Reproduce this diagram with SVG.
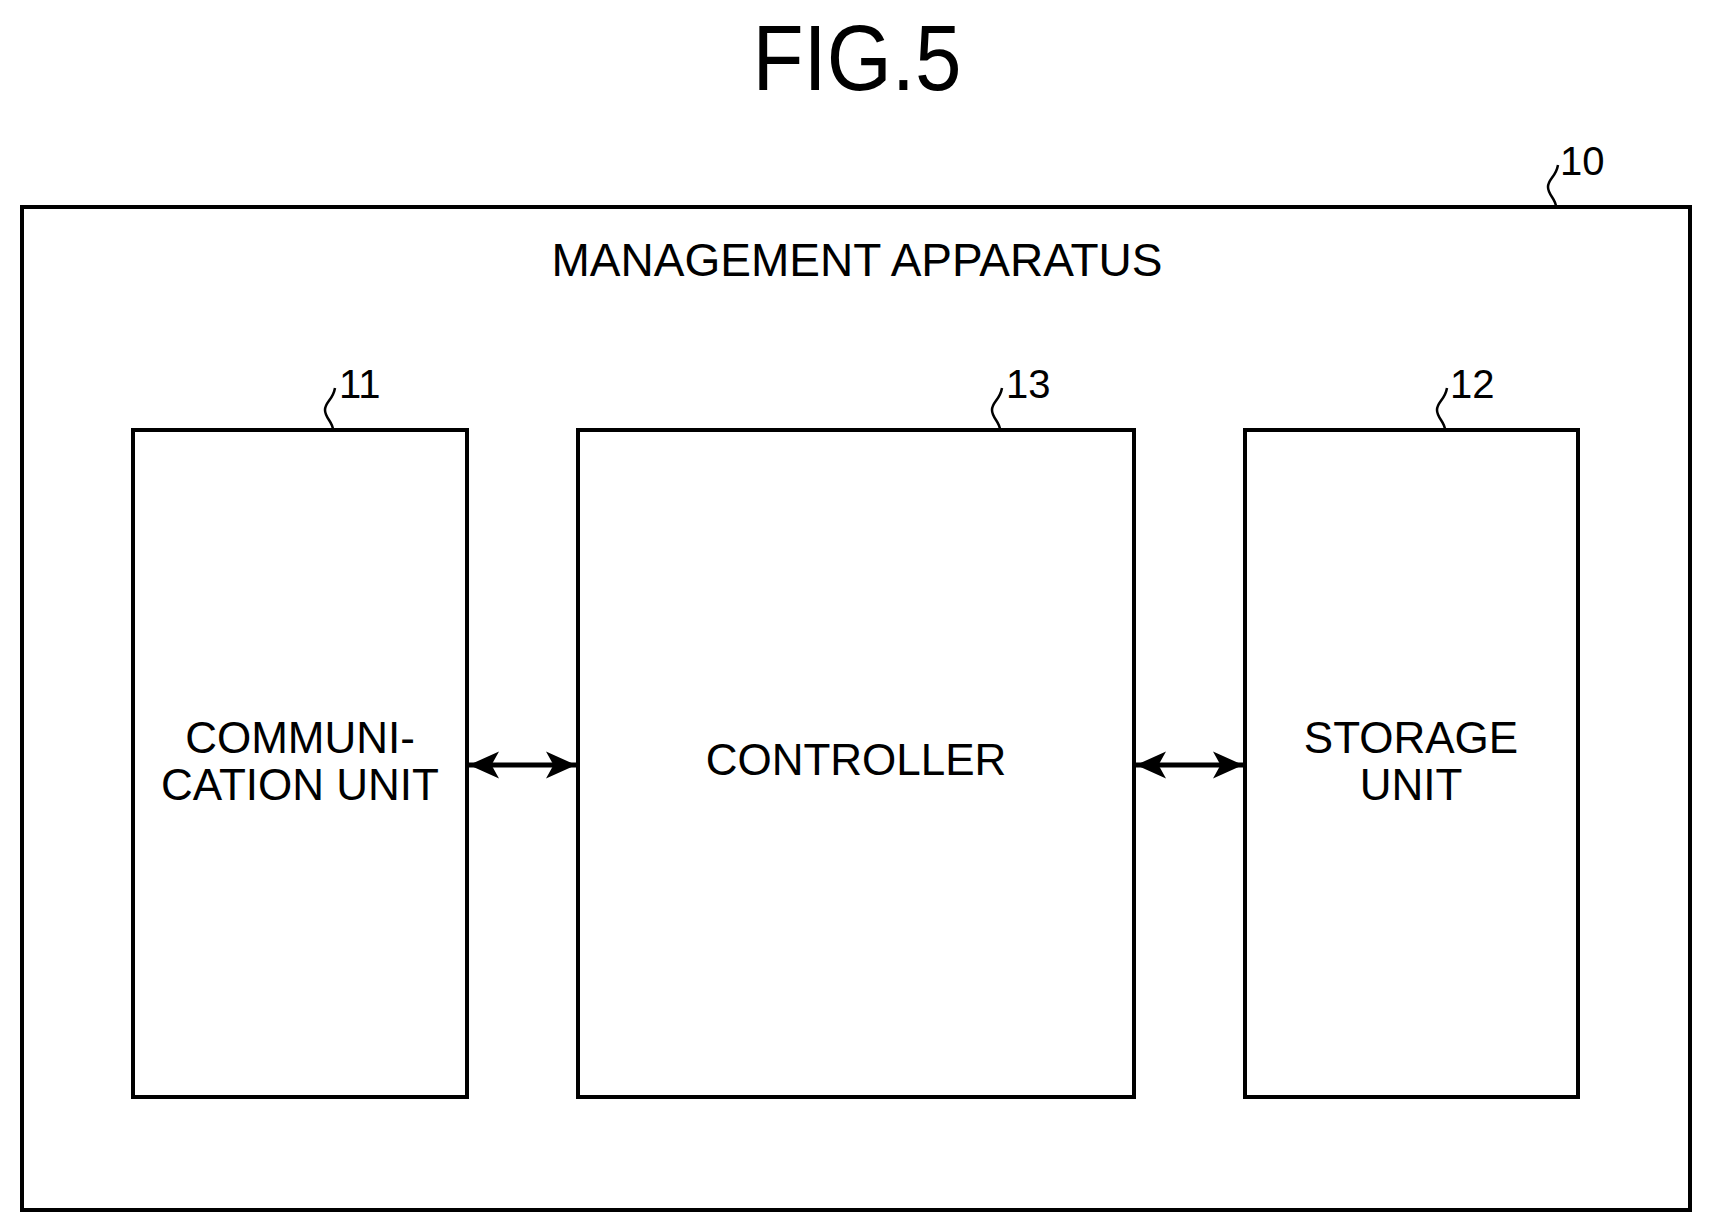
<svg xmlns="http://www.w3.org/2000/svg" width="1712" height="1232" viewBox="0 0 1712 1232">
<style>
.b{fill:none;stroke:#000;stroke-width:4}
.t{font-family:"Liberation Sans",Arial,sans-serif;fill:#000;text-anchor:middle}
.l{font-family:"Liberation Sans",Arial,sans-serif;fill:#000;font-size:40px}
.s{fill:none;stroke:#000;stroke-width:2.5}
</style>
<defs><marker id="a" viewBox="0 0 10 10" refX="10" refY="5" markerWidth="6" markerHeight="6" orient="auto-start-reverse"><path d="M0,0.5L10,5L0,9.5L2.5,5Z" fill="#000"/></marker></defs>
<rect width="1712" height="1232" fill="#fff"/>
<text class="t" x="857" y="90" font-size="88" transform="translate(857 90) scale(0.95 1.05) translate(-857 -90)">FIG.5</text>
<g id="n10"><rect class="b" x="22" y="207" width="1668" height="1003"/>
<text class="t" x="857" y="276" font-size="46">MANAGEMENT APPARATUS</text>
<path class="s" d="M1556,207c0,-8 -8,-12 -8,-20s8,-10 10,-22"/><text class="l" x="1560" y="175">10</text></g>
<g id="n11"><rect class="b" x="133" y="430" width="334" height="667"/>
<text class="t" x="300" y="753" font-size="44">COMMUNI-</text><text class="t" x="300" y="800" font-size="44">CATION UNIT</text>
<path class="s" d="M333,430c0,-8 -8,-12 -8,-20s8,-10 10,-22"/><text class="l" x="339" y="398">11</text></g>
<g id="n13"><rect class="b" x="578" y="430" width="556" height="667"/>
<text class="t" x="856" y="775" font-size="44">CONTROLLER</text>
<path class="s" d="M1000,430c0,-8 -8,-12 -8,-20s8,-10 10,-22"/><text class="l" x="1006" y="398">13</text></g>
<g id="n12"><rect class="b" x="1245" y="430" width="333" height="667"/>
<text class="t" x="1411" y="753" font-size="44">STORAGE</text><text class="t" x="1411" y="800" font-size="44">UNIT</text>
<path class="s" d="M1445,430c0,-8 -8,-12 -8,-20s8,-10 10,-22"/><text class="l" x="1450" y="398">12</text></g>
<g id="connectors" stroke="#000" stroke-width="5">
<line x1="469" y1="765" x2="576" y2="765" marker-start="url(#a)" marker-end="url(#a)"/>
<line x1="1136" y1="765" x2="1243" y2="765" marker-start="url(#a)" marker-end="url(#a)"/>
</g>
</svg>
